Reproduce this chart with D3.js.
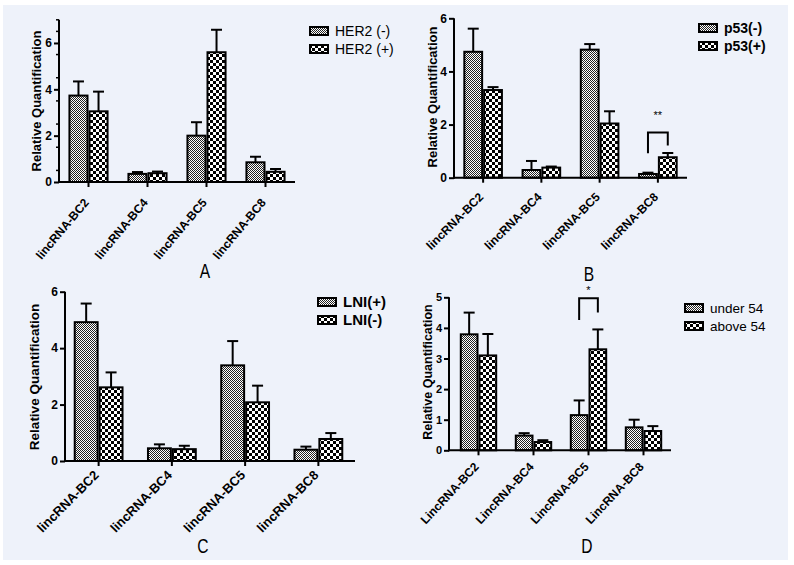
<!DOCTYPE html>
<html><head><meta charset="utf-8">
<script src="https://cdn.jsdelivr.net/npm/d3@7"></script>
<style>body{margin:0;background:#fff}svg{display:block}</style>
</head><body>
<svg id="c" width="794" height="565"></svg>
<script>
// ---------- data ----------
const categories = ["lincRNA-BC2", "lincRNA-BC4", "lincRNA-BC5", "lincRNA-BC8"];
const categoriesD = ["LincRNA-BC2", "LincRNA-BC4", "LincRNA-BC5", "LincRNA-BC8"];

const seriesA = ["HER2 (-)", "HER2 (+)"];
const her2Neg = [3.73, 0.35, 2.00, 0.85];
const her2NegErr = [0.61, 0.08, 0.58, 0.24];
const her2Pos = [3.05, 0.38, 5.60, 0.44];
const her2PosErr = [0.85, 0.07, 0.97, 0.12];

const seriesB = ["p53(-)", "p53(+)"];
const p53Neg = [4.74, 0.29, 4.82, 0.14];
const p53NegErr = [0.87, 0.34, 0.21, 0.05];
const p53Pos = [3.30, 0.38, 2.04, 0.77];
const p53PosErr = [0.11, 0.04, 0.46, 0.16];

const seriesC = ["LNI(+)", "LNI(-)"];
const lniPos = [4.92, 0.45, 3.39, 0.40];
const lniPosErr = [0.66, 0.14, 0.86, 0.11];
const lniNeg = [2.61, 0.42, 2.08, 0.78];
const lniNegErr = [0.53, 0.12, 0.59, 0.21];

const seriesD = ["under 54", "above 54"];
const under54 = [3.79, 0.48, 1.15, 0.75];
const under54Err = [0.71, 0.08, 0.48, 0.25];
const above54 = [3.10, 0.27, 3.30, 0.63];
const above54Err = [0.70, 0.06, 0.65, 0.16];

const ticksA = [0, 2, 4, 6];
const ticksB = [0, 2, 4, 6];
const ticksC = [0, 2, 4, 6];
const ticksD = [0, 1, 2, 3, 4, 5];

// significance: [category index, bracket top, left leg bottom, right leg bottom, label, label value]
const sigB = [3, 1.70, 0.92, 1.21, "**", 2.2];
const sigD = [2, 4.97, 4.26, 4.50, "*", 5.11];

// ---------- drawing ----------
const svg = d3.select("#c");
svg.append("rect").attr("x", 3).attr("y", 5).attr("width", 785).attr("height", 555).attr("fill", "#eef2fa");

const defs = svg.append("defs");
const p1 = defs.append("pattern").attr("id", "pat1").attr("patternUnits", "userSpaceOnUse")
  .attr("width", 2).attr("height", 2);
p1.append("rect").attr("width", 2).attr("height", 2).attr("fill", "#fff");
p1.append("rect").attr("width", 1).attr("height", 1).attr("fill", "#222");
p1.append("rect").attr("x", 1).attr("y", 1).attr("width", 1).attr("height", 1).attr("fill", "#222");
const p2 = defs.append("pattern").attr("id", "pat2").attr("patternUnits", "userSpaceOnUse")
  .attr("width", 6).attr("height", 6);
p2.append("rect").attr("width", 6).attr("height", 6).attr("fill", "#fff");
p2.append("rect").attr("width", 3).attr("height", 3).attr("fill", "#000");
p2.append("rect").attr("x", 3).attr("y", 3).attr("width", 3).attr("height", 3).attr("fill", "#000");

const FONT = "'Liberation Sans', Arial, sans-serif";

const panels = [
  { cats: categories, names: seriesA, s1: her2Neg, e1: her2NegErr, s2: her2Pos, e2: her2PosErr,
    max: 7, ticks: ticksA, minor: true, x0: 59, x1: 295, xr0: 59, y0: 182, yTop: 19.8,
    ylab: [36, 101, 13], legend: [310, 31, 14, "normal"], letter: ["A", 205, 278], tickFont: 12,
    xl: [12, 50, 21] },
  { cats: categories, names: seriesB, s1: p53Neg, e1: p53NegErr, s2: p53Pos, e2: p53PosErr,
    max: 6, ticks: ticksB, minor: false, x0: 454, x1: 687, xr0: 454, y0: 177.7, yTop: 18.3,
    ylab: [432, 97, 13], legend: [699, 28, 14, "bold"], letter: ["B", 589, 281], tickFont: 12, sig: sigB,
    xl: [12, 45, 20] },
  { cats: categories, names: seriesC, s1: lniPos, e1: lniPosErr, s2: lniNeg, e2: lniNegErr,
    max: 6, ticks: ticksC, minor: false, x0: 65, x1: 355, xr0: 62, y0: 461, yTop: 291.7,
    ylab: [34, 377, 13.5], legend: [318, 302, 15, "bold"], letter: ["C", 203, 553], tickFont: 12,
    xl: [13, 45, 15] },
  { cats: categoriesD, names: seriesD, s1: under54, e1: under54Err, s2: above54, e2: above54Err,
    max: 5, ticks: ticksD, minor: false, x0: 449, x1: 671, xr0: 451, y0: 450.3, yTop: 297.3,
    ylab: [427, 372, 12.5], legend: [685, 308, 13.5, "normal"], letter: ["D", 587, 553], tickFont: 11, sig: sigD,
    xl: [12, 47, 17] }
];

panels.forEach(p => {
  const g = svg.append("g");
  const y = d3.scaleLinear().domain([0, p.max]).range([p.y0, p.yTop]);
  const x = d3.scaleBand().domain(p.cats).range([p.xr0, p.x1]);
  const bw = x.bandwidth() * 0.34;

  // bars
  const series = [
    { vals: p.s1, errs: p.e1, fill: "url(#pat1)", off: -1 },
    { vals: p.s2, errs: p.e2, fill: "url(#pat2)", off: 0 }
  ];
  series.forEach(s => {
    p.cats.forEach((c, i) => {
      const xc = x(c) + x.bandwidth() / 2 + s.off * bw + bw / 2;
      const yt = y(s.vals[i] + s.errs[i]);
      g.append("line").attr("x1", xc).attr("x2", xc).attr("y1", y(s.vals[i])).attr("y2", yt)
        .attr("stroke", "#000").attr("stroke-width", 2);
      g.append("line").attr("x1", xc - 5.5).attr("x2", xc + 5.5).attr("y1", yt).attr("y2", yt)
        .attr("stroke", "#000").attr("stroke-width", 2);
    });
    g.selectAll(null).data(p.cats).enter().append("rect")
      .attr("x", (c) => x(c) + x.bandwidth() / 2 + s.off * bw + 1)
      .attr("width", bw - 2)
      .attr("y", (c, i) => y(s.vals[i]))
      .attr("height", (c, i) => p.y0 - y(s.vals[i]))
      .attr("fill", s.fill).attr("stroke", "#000").attr("stroke-width", 2);
  });

  // y axis
  const ya = d3.axisLeft(y).tickValues(p.ticks).tickFormat(d3.format("d"))
    .tickSize(5).tickSizeOuter(0).tickPadding(2);
  const yg = g.append("g").attr("transform", `translate(${p.x0},0)`).call(ya);
  yg.select(".domain").attr("stroke-width", 2).attr("d", `M0,${p.y0 + 1}V${p.yTop}`);
  yg.selectAll(".tick line").attr("stroke-width", 2);
  yg.selectAll(".tick text").attr("font-family", FONT).attr("font-weight", "bold")
    .attr("font-size", p.tickFont).attr("fill", "#000");
  if (p.minor) {
    const minorVals = d3.range(0.5, p.max + 0.01, 1);
    g.selectAll(null).data(minorVals).enter().append("line")
      .attr("x1", p.x0 - 3).attr("x2", p.x0).attr("y1", d => y(d)).attr("y2", d => y(d))
      .attr("stroke", "#000").attr("stroke-width", 1.5);
    g.append("line").attr("x1", p.x0 - 3).attr("x2", p.x0).attr("y1", y(p.max)).attr("y2", y(p.max))
      .attr("stroke", "#000").attr("stroke-width", 1.5);
  }

  // x axis
  const xa = d3.axisBottom(x).tickSize(5).tickSizeOuter(0).tickFormat("");
  const xg = g.append("g").attr("transform", `translate(0,${p.y0})`).call(xa);
  xg.select(".domain").attr("stroke-width", 2).attr("d", `M${p.x0 - 1},0H${p.x1}`);
  xg.selectAll(".tick line").attr("stroke-width", 2);
  const [xfs, xrot, xdy] = p.xl;
  g.selectAll(null).data(p.cats).enter().append("text")
    .attr("transform", c => `translate(${x(c) + x.bandwidth() / 2 + 1},${p.y0 + xdy}) rotate(-${xrot})`)
    .attr("text-anchor", "end").attr("font-family", FONT).attr("font-weight", "bold")
    .attr("font-size", xfs).attr("fill", "#000").text(c => c);

  // y label
  g.append("text").attr("transform", `translate(${p.ylab[0] + 5},${p.ylab[1]}) rotate(-90)`)
    .attr("text-anchor", "middle").attr("font-family", FONT).attr("font-weight", "bold")
    .attr("font-size", p.ylab[2]).attr("fill", "#000").text("Relative Quantification");

  // legend
  const [lx, ly, lfs, lfw] = p.legend;
  p.names.forEach((n, i) => {
    const yy = ly + i * 18;
    g.append("rect").attr("x", lx).attr("y", yy - 4).attr("width", 18).attr("height", 8)
      .attr("fill", i === 0 ? "url(#pat1)" : "url(#pat2)").attr("stroke", "#000").attr("stroke-width", 2);
    g.append("text").attr("x", lx + 25).attr("y", yy + 5).attr("font-family", FONT)
      .attr("font-size", lfs).attr("font-weight", lfw).attr("fill", "#000").text(n);
  });

  // significance bracket
  if (p.sig) {
    const [ci, top, lb, rb, lab, lv] = p.sig;
    const c = p.cats[ci];
    const xl = x(c) + x.bandwidth() / 2 - bw / 2;
    const xr = x(c) + x.bandwidth() / 2 + bw / 2;
    g.append("path").attr("d", `M${xl},${y(lb)}V${y(top)}H${xr}V${y(rb)}`)
      .attr("fill", "none").attr("stroke", "#000").attr("stroke-width", 2);
    g.append("text").attr("x", (xl + xr) / 2).attr("y", y(lv)).attr("text-anchor", "middle")
      .attr("font-family", FONT).attr("font-size", 11).attr("fill", "#000").text(lab);
  }

  // panel letter
  const [lt, ltx, lty] = p.letter;
  g.append("text").attr("transform", `translate(${ltx},${lty}) scale(0.78,1)`)
    .attr("text-anchor", "middle").attr("font-family", FONT).attr("font-size", 20)
    .attr("fill", "#000").text(lt);
});
</script>
</body></html>
